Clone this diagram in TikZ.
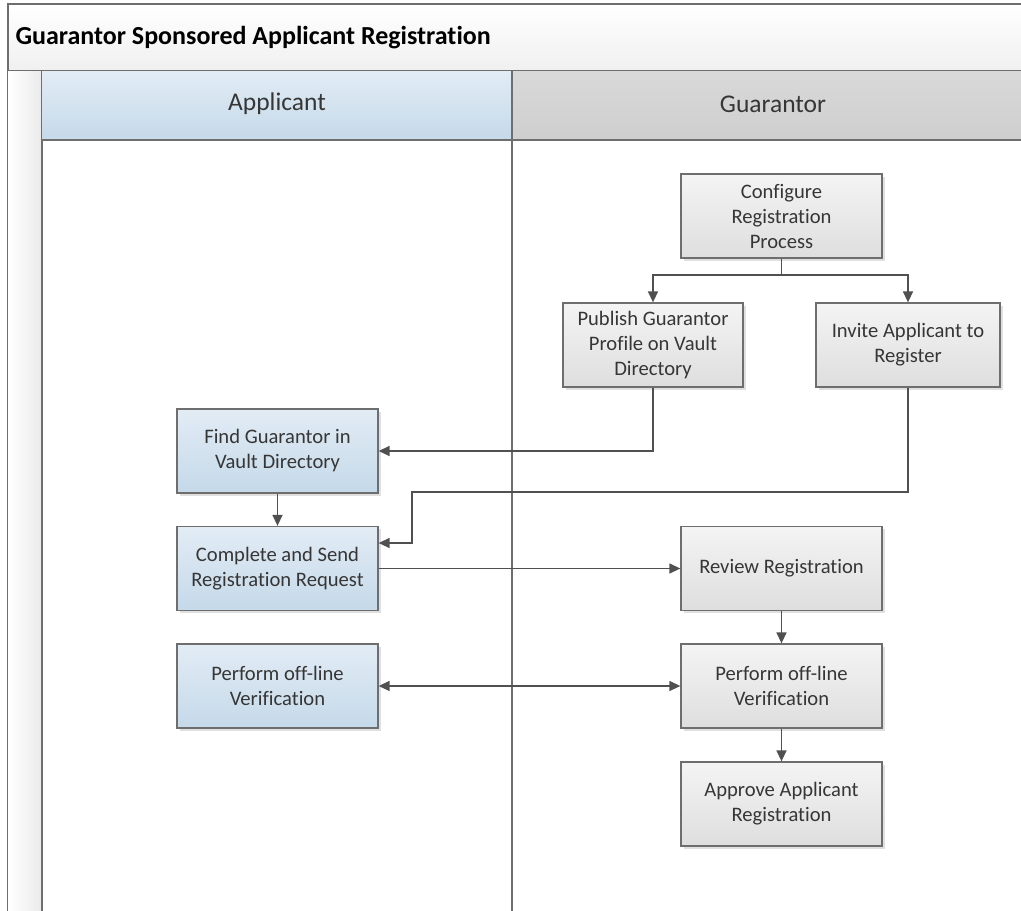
\documentclass[tikz,border=0pt]{standalone}
\usepackage{fontspec}
\setmainfont{Carlito}[Ligatures=NoCommon]
\usetikzlibrary{arrows.meta,positioning,calc}
\definecolor{edge}{HTML}{6E6E6E}
\definecolor{wire}{HTML}{505050}
\definecolor{ink}{HTML}{363636}
\definecolor{bluetop}{HTML}{E2ECF5}
\definecolor{bluebot}{HTML}{C5D9E9}
\definecolor{graytop}{HTML}{F4F4F4}
\definecolor{graybot}{HTML}{DEDEDE}
\tikzset{
  box/.style={draw=edge, line width=1.3pt, minimum width=201pt, minimum height=84pt,
    align=center, font=\fontsize{20.6}{25}\selectfont, text=ink, inner sep=2pt},
  appbox/.style={box, top color=bluetop, bottom color=bluebot},
  guabox/.style={box, top color=graytop, bottom color=graybot},
  shadowbox/.style={fill=black!12, draw=none},
  arr/.style={draw=wire, line width=1.4pt, -{Triangle[length=11pt,width=10pt]}},
  dblarr/.style={draw=wire, line width=1.4pt, {Triangle[length=11pt,width=10pt]}-{Triangle[length=11pt,width=10pt]}},
  frame/.style={draw=edge, line width=1.2pt},
  lanehead/.style={font=\fontsize{25.5}{30}\selectfont, text=ink},
}
\begin{document}
\begin{tikzpicture}[x=1pt,y=-1pt]
\useasboundingbox (0,0) rectangle (1021,911);
\fill[white] (0,0) rectangle (1021,911);

% pool title bar
\shade[top color=white, bottom color=black!6] (8,4) rectangle (1030,71);
\draw[frame] (1030,4) -- (8,4) -- (8,920);
\draw[frame] (8,71) -- (1030,71);
\node[anchor=west, font=\bfseries\fontsize{26}{30}\selectfont, text=black] (title) at (12,38)
  {Guarantor Sponsored Applicant Registration};

% left strip
\shade[left color=white, right color=black!8] (8,71) rectangle (42,920);
\draw[frame] (42,71) -- (42,920);

% lane headers
\shade[top color=bluetop, bottom color=bluebot] (42,71) rectangle (512,140);
\shade[top color=black!15, bottom color=black!19] (512,71) rectangle (1030,140);
\draw[frame] (42,140) -- (1030,140);
\draw[frame] (512,71) -- (512,920);
\node[lanehead] (hApp) at (277,104) {Applicant};
\node[lanehead] (hGua) at (773,104) {Guarantor};

% soft drop shadows
\foreach \cx/\cy/\w in {781.5/216/201, 653/345/180, 908/345/184, 277.5/451/201, 277.5/568.5/201,
                        277.5/686/201, 781.5/568.5/201, 781.5/686/201, 781.5/804/201}
  \fill[shadowbox] (\cx-\w/2+2.5,\cy-42+2.5) rectangle (\cx+\w/2+2.5,\cy+42+2.5);

% guarantor lane activities
\node[guabox] (conf) at (781.5,216) {Configure\\Registration\\Process};
\node[guabox, minimum width=180pt] (pub) at (653,345) {Publish Guarantor\\Profile on Vault\\Directory};
\node[guabox, minimum width=184pt] (inv) at (908,345) {Invite Applicant to\\Register};
\node[guabox] (rev) at (781.5,568.5) {Review Registration};
\node[guabox] (verG) at (781.5,686) {Perform off-line\\Verification};
\node[guabox] (appr) at (781.5,804) {Approve Applicant\\Registration};

% applicant lane activities
\node[appbox] (find) at (277.5,451) {Find Guarantor in\\Vault Directory};
\node[appbox] (comp) at (277.5,568.5) {Complete and Send\\Registration Request};
\node[appbox] (verA) at (277.5,686) {Perform off-line\\Verification};

% flow
\coordinate (split) at (781.5,275);
\coordinate (bend) at (412,492);
\draw[draw=wire, line width=1.4pt] (conf.south) -- (split);
\draw[arr] (split) -| (pub.north);
\draw[arr] (split) -| (inv.north);
\draw[arr] (pub.south) |- (find.east);
\draw[arr] (inv.south) |- (bend) |- ([yshift=25.5pt]comp.east);
\draw[arr] (find) -- (comp);
\draw[arr] (comp) -- (rev);
\draw[dblarr] (verA) -- (verG);
\draw[arr] (rev) -- (verG);
\draw[arr] (verG) -- (appr);
\end{tikzpicture}
\end{document}
